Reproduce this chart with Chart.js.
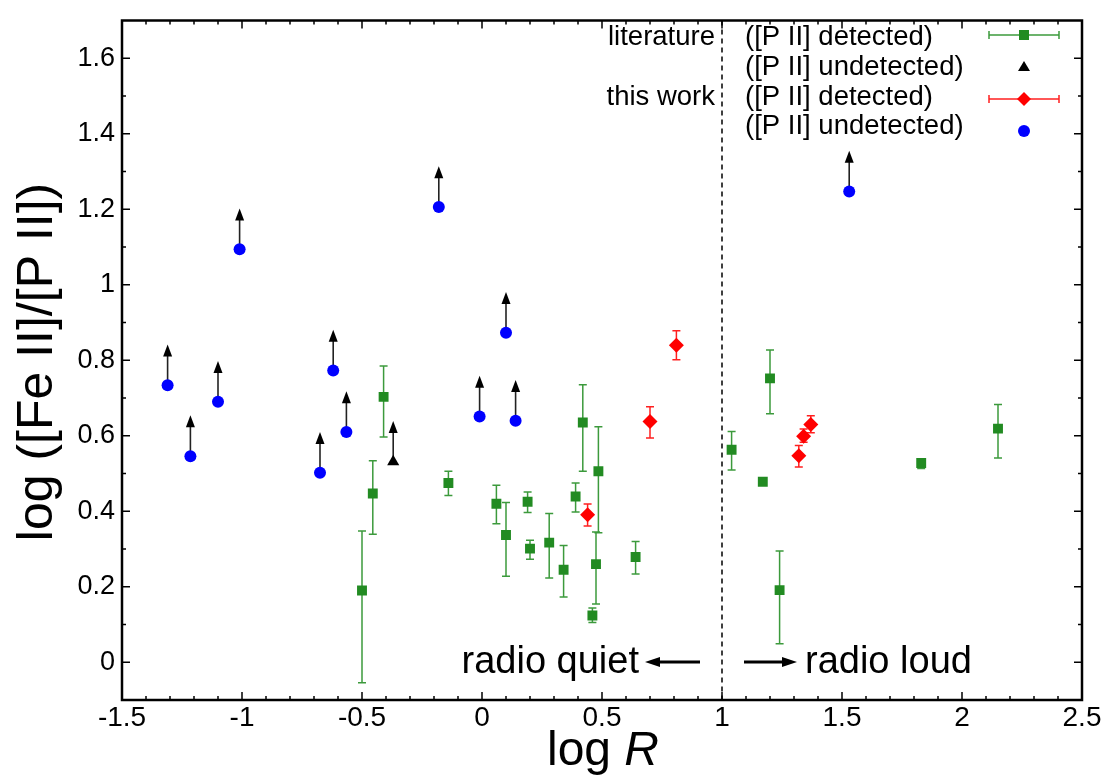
<!DOCTYPE html>
<html>
<head>
<meta charset="utf-8">
<script src="https://cdn.jsdelivr.net/npm/chart.js@4.4.1/dist/chart.umd.min.js"></script>
<style>
  html, body { margin: 0; padding: 0; background: #fff; }
  #fe-p-chart { display: block; }
</style>
</head>
<body>
<canvas id="fe-p-chart" width="1113" height="780"></canvas>
<script>
const canvas = document.getElementById('fe-p-chart');

// axes
const xTicks = [-1.5, -1, -0.5, 0, 0.5, 1, 1.5, 2, 2.5];
const yTicks = [0, 0.2, 0.4, 0.6, 0.8, 1, 1.2, 1.4, 1.6];
const xRange = [-1.5, 2.5];
const yRange = [-0.1, 1.7];
const radioBorder = 1;      // log R = 1 splits quiet / loud
const limitArrow = 0.108;   // length of the lower-limit arrows (data units)

// literature, [P II] detected
const litDetX  = [-0.50, -0.455, -0.41, -0.14, 0.06, 0.10, 0.19, 0.20, 0.28, 0.34, 0.39, 0.42, 0.46, 0.475, 0.485, 0.64, 1.04, 1.17, 1.20, 1.24, 1.83, 2.15];
const litDetY  = [0.190, 0.447, 0.703, 0.475, 0.420, 0.337, 0.425, 0.301, 0.317, 0.245, 0.439, 0.635, 0.124, 0.260, 0.506, 0.279, 0.563, 0.478, 0.752, 0.191, 0.528, 0.619];
const litDetLo = [-0.054, 0.339, 0.597, 0.442, 0.367, 0.228, 0.397, 0.273, 0.223, 0.173, 0.398, 0.506, 0.105, 0.154, 0.343, 0.234, 0.509, 0.478, 0.658, 0.049, 0.513, 0.541];
const litDetHi = [0.348, 0.534, 0.785, 0.506, 0.469, 0.423, 0.451, 0.323, 0.394, 0.309, 0.475, 0.735, 0.144, 0.345, 0.624, 0.320, 0.611, 0.478, 0.827, 0.295, 0.539, 0.683];

// literature, [P II] undetected (lower limit)
const litUndetX = [-0.37];
const litUndetY = [0.531];

// this work, [P II] detected
const workDetX  = [0.44, 0.70, 0.81, 1.32, 1.34, 1.37];
const workDetY  = [0.391, 0.638, 0.840, 0.547, 0.599, 0.630];
const workDetLo = [0.361, 0.594, 0.801, 0.517, 0.583, 0.608];
const workDetHi = [0.419, 0.677, 0.878, 0.574, 0.618, 0.653];

// this work, [P II] undetected (lower limit)
const workUndetX = [-1.31, -1.215, -1.10, -1.01, -0.675, -0.62, -0.565, -0.18, -0.01, 0.10, 0.14, 1.53];
const workUndetY = [0.734, 0.546, 0.690, 1.094, 0.502, 0.773, 0.610, 1.206, 0.651, 0.873, 0.640, 1.247];

const legendGroups = ['literature', '', 'this work', ''];
const legendLabels = ['([P II] detected)', '([P II] undetected)', '([P II] detected)', '([P II] undetected)'];
const quietLabel = 'radio quiet';
const loudLabel = 'radio loud';

const GREEN = '#228b22';
const GREEN_BAR = '#3c9a3c';
const RED = '#ff0000';
const BLUE = '#0000ff';
const FONT = '"Liberation Sans", Arial, sans-serif';

function pts(xs, ys) {
    return xs.map((x, i) => ({ x: x, y: ys[i] }));
}

function drawErrBars(ctx, xs, ys, X, lo, hi, color) {
    ctx.strokeStyle = color;
    ctx.lineWidth = 1.5;
    for (let i = 0; i < X.length; i++) {
        if (lo[i] === hi[i]) continue;
        const px = xs.getPixelForValue(X[i]);
        const p1 = ys.getPixelForValue(lo[i]);
        const p2 = ys.getPixelForValue(hi[i]);
        ctx.beginPath();
        ctx.moveTo(px, p1); ctx.lineTo(px, p2);
        ctx.moveTo(px - 4, p1); ctx.lineTo(px + 4, p1);
        ctx.moveTo(px - 4, p2); ctx.lineTo(px + 4, p2);
        ctx.stroke();
    }
}

function drawArrows(ctx, xs, ys, X, Y) {
    for (let i = 0; i < X.length; i++) {
        const px = xs.getPixelForValue(X[i]);
        const py = ys.getPixelForValue(Y[i]);
        const tip = ys.getPixelForValue(Y[i] + limitArrow);
        ctx.strokeStyle = '#222';
        ctx.lineWidth = 1.6;
        ctx.beginPath();
        ctx.moveTo(px, py); ctx.lineTo(px, tip + 8);
        ctx.stroke();
        ctx.fillStyle = '#000';
        ctx.beginPath();
        ctx.moveTo(px, tip);
        ctx.lineTo(px + 4.5, tip + 12);
        ctx.lineTo(px - 4.5, tip + 12);
        ctx.closePath();
        ctx.fill();
    }
}

function hArrow(ctx, x1, x2, y) {
    // arrow pointing from x1 to x2
    const dir = Math.sign(x2 - x1);
    ctx.strokeStyle = '#000';
    ctx.fillStyle = '#000';
    ctx.lineWidth = 3;
    ctx.beginPath();
    ctx.moveTo(x1, y); ctx.lineTo(x2 - dir * 10, y);
    ctx.stroke();
    ctx.beginPath();
    ctx.moveTo(x2, y);
    ctx.lineTo(x2 - dir * 15, y - 5);
    ctx.lineTo(x2 - dir * 15, y + 5);
    ctx.closePath();
    ctx.fill();
}

const extras = {
    id: 'extras',
    beforeDatasetsDraw(chart) {
        const ctx = chart.ctx, xs = chart.scales.x, ys = chart.scales.y, area = chart.chartArea;
        ctx.save();
        // radio quiet / loud border
        const bx = xs.getPixelForValue(radioBorder);
        ctx.strokeStyle = '#000';
        ctx.lineWidth = 1.5;
        ctx.setLineDash([5, 4]);
        ctx.beginPath();
        ctx.moveTo(bx, area.top); ctx.lineTo(bx, area.bottom);
        ctx.stroke();
        ctx.setLineDash([]);

        drawErrBars(ctx, xs, ys, litDetX, litDetLo, litDetHi, GREEN_BAR);
        drawErrBars(ctx, xs, ys, workDetX, workDetLo, workDetHi, '#ff2020');
        drawArrows(ctx, xs, ys, workUndetX, workUndetY);
        drawArrows(ctx, xs, ys, litUndetX, litUndetY);
        ctx.restore();
    },
    afterDraw(chart) {
        const ctx = chart.ctx, xs = chart.scales.x, ys = chart.scales.y, area = chart.chartArea;
        ctx.save();

        // frame + inward ticks on all four sides
        ctx.strokeStyle = '#000';
        ctx.lineWidth = 1.5;
        ctx.beginPath();
        for (let k = Math.round(xRange[0] * 10) + 1; k < Math.round(xRange[1] * 10); k++) {
            const px = xs.getPixelForValue(k / 10);
            const len = (k % 5 === 0) ? 8 : 4;
            ctx.moveTo(px, area.bottom); ctx.lineTo(px, area.bottom - len);
            ctx.moveTo(px, area.top); ctx.lineTo(px, area.top + len);
        }
        for (let k = Math.round(yRange[0] * 10) + 1; k < Math.round(yRange[1] * 10); k++) {
            const py = ys.getPixelForValue(k / 10);
            const len = (k % 2 === 0) ? 8 : 4;
            ctx.moveTo(area.left, py); ctx.lineTo(area.left + len, py);
            ctx.moveTo(area.right, py); ctx.lineTo(area.right - len, py);
        }
        ctx.stroke();
        ctx.lineWidth = 2.5;
        ctx.strokeRect(area.left, area.top, area.right - area.left, area.bottom - area.top);

        // axis titles
        ctx.fillStyle = '#000';
        ctx.textBaseline = 'alphabetic';
        ctx.font = '48px ' + FONT;
        const w1 = ctx.measureText('log ').width;
        ctx.font = 'italic 48px ' + FONT;
        const w2 = ctx.measureText('R').width;
        const tx = 603 - (w1 + w2) / 2;
        ctx.textAlign = 'left';
        ctx.font = '48px ' + FONT;
        ctx.fillText('log ', tx, 765);
        ctx.font = 'italic 48px ' + FONT;
        ctx.fillText('R', tx + w1, 765);

        ctx.save();
        ctx.translate(52, 362);
        ctx.rotate(-Math.PI / 2);
        ctx.textAlign = 'center';
        ctx.font = '50px ' + FONT;
        ctx.fillText('log ([Fe II]/[P II])', 0, 0);
        ctx.restore();

        // radio quiet / loud labels
        const bx = xs.getPixelForValue(radioBorder);
        ctx.font = '38px ' + FONT;
        ctx.textAlign = 'right';
        ctx.fillText(quietLabel, bx - 83, 673);
        hArrow(ctx, bx - 22, bx - 77, 662);
        hArrow(ctx, bx + 22, bx + 75, 662);
        ctx.textAlign = 'left';
        ctx.fillStyle = '#000';
        ctx.fillText(loudLabel, bx + 83, 673);

        // legend
        ctx.font = '27.5px ' + FONT;
        const rowBase = [45, 75, 104.5, 134];
        const rowMid = [35, 67, 99, 131];
        for (let i = 0; i < legendLabels.length; i++) {
            ctx.fillStyle = '#000';
            if (legendGroups[i]) {
                ctx.textAlign = 'right';
                ctx.fillText(legendGroups[i], 715, rowBase[i]);
            }
            ctx.textAlign = 'left';
            ctx.fillText(legendLabels[i], 745, rowBase[i]);
        }
        const sx = 1024;
        // green error bar + square
        ctx.strokeStyle = GREEN_BAR;
        ctx.lineWidth = 1.5;
        ctx.beginPath();
        ctx.moveTo(989, rowMid[0]); ctx.lineTo(1059, rowMid[0]);
        ctx.moveTo(989, rowMid[0] - 4); ctx.lineTo(989, rowMid[0] + 4);
        ctx.moveTo(1059, rowMid[0] - 4); ctx.lineTo(1059, rowMid[0] + 4);
        ctx.stroke();
        ctx.fillStyle = GREEN;
        ctx.fillRect(sx - 5, rowMid[0] - 5, 10, 10);
        // black triangle
        ctx.fillStyle = '#000';
        ctx.beginPath();
        ctx.moveTo(sx, rowMid[1] - 6);
        ctx.lineTo(sx + 6, rowMid[1] + 4);
        ctx.lineTo(sx - 6, rowMid[1] + 4);
        ctx.closePath();
        ctx.fill();
        // red error bar + diamond
        ctx.strokeStyle = '#ff2020';
        ctx.beginPath();
        ctx.moveTo(989, rowMid[2]); ctx.lineTo(1059, rowMid[2]);
        ctx.moveTo(989, rowMid[2] - 4); ctx.lineTo(989, rowMid[2] + 4);
        ctx.moveTo(1059, rowMid[2] - 4); ctx.lineTo(1059, rowMid[2] + 4);
        ctx.stroke();
        ctx.fillStyle = RED;
        ctx.beginPath();
        ctx.moveTo(sx, rowMid[2] - 7); ctx.lineTo(sx + 7, rowMid[2]);
        ctx.lineTo(sx, rowMid[2] + 7); ctx.lineTo(sx - 7, rowMid[2]);
        ctx.closePath();
        ctx.fill();
        // blue circle
        ctx.fillStyle = BLUE;
        ctx.beginPath();
        ctx.arc(sx, rowMid[3], 6, 0, Math.PI * 2);
        ctx.fill();

        ctx.restore();
    }
};

const chart = new Chart(canvas, {
    type: 'scatter',
    data: {
        datasets: [
            {
                label: 'literature ([P II] detected)',
                data: pts(litDetX, litDetY),
                pointStyle: 'rect',
                radius: 7,
                borderWidth: 0,
                backgroundColor: GREEN,
                borderColor: GREEN
            },
            {
                label: 'literature ([P II] undetected)',
                data: pts(litUndetX, litUndetY),
                pointStyle: 'triangle',
                radius: 7,
                borderWidth: 0,
                backgroundColor: '#000',
                borderColor: '#000'
            },
            {
                label: 'this work ([P II] detected)',
                data: pts(workDetX, workDetY),
                pointStyle: 'rectRot',
                radius: 7.5,
                borderWidth: 0,
                backgroundColor: RED,
                borderColor: RED
            },
            {
                label: 'this work ([P II] undetected)',
                data: pts(workUndetX, workUndetY),
                pointStyle: 'circle',
                radius: 6,
                borderWidth: 0,
                backgroundColor: BLUE,
                borderColor: BLUE
            }
        ]
    },
    options: {
        responsive: false,
        animation: false,
        events: [],
        layout: { padding: { top: 12, right: 31, left: 0, bottom: 0 } },
        plugins: {
            legend: { display: false },
            tooltip: { enabled: false }
        },
        scales: {
            x: {
                type: 'linear',
                min: xRange[0],
                max: xRange[1],
                grid: { display: false, drawTicks: false },
                border: { display: false },
                ticks: {
                    color: '#000',
                    padding: 1,
                    font: { family: FONT, size: 28, lineHeight: 1.2 },
                    callback: (v) => String(v)
                },
                afterBuildTicks: (s) => { s.ticks = xTicks.map(v => ({ value: v })); },
                afterFit: (s) => { s.height = 80; }
            },
            y: {
                type: 'linear',
                min: yRange[0],
                max: yRange[1],
                grid: { display: false, drawTicks: false },
                border: { display: false },
                ticks: {
                    color: '#000',
                    padding: 7,
                    font: { family: FONT, size: 27, lineHeight: 1 },
                    callback: (v) => String(v)
                },
                afterBuildTicks: (s) => { s.ticks = yTicks.map(v => ({ value: v })); },
                afterFit: (s) => { s.width = 122; }
            }
        }
    },
    plugins: [extras]
});
</script>
</body>
</html>
